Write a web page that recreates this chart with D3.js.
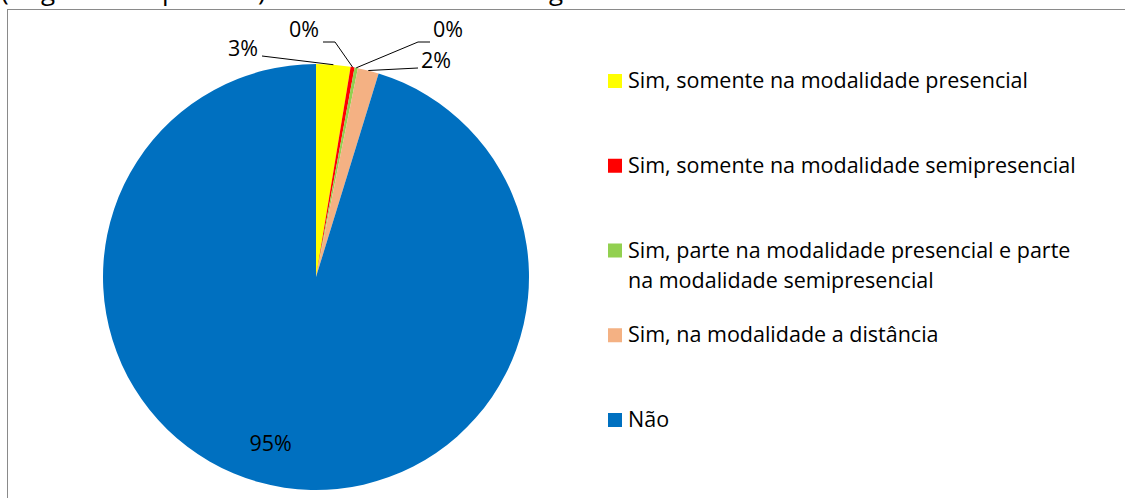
<!DOCTYPE html>
<html>
<head>
<meta charset="utf-8">
<script src="https://cdn.jsdelivr.net/npm/d3@7"></script>
<style>
  body { margin: 0; background: #fff; }
  svg { display: block; }
  text { font-family: "Open Sans", sans-serif; fill: #000; }
</style>
</head>
<body>
<svg id="chart" width="1125" height="498"></svg>
<script>
// categories and shares (percent)
const categories = [
  "Sim, somente na modalidade presencial",
  "Sim, somente na modalidade semipresencial",
  "Sim, parte na modalidade presencial e parte na modalidade semipresencial",
  "Sim, na modalidade a distância",
  "Não"
]
const shares = [2.6, 0.3, 0.25, 1.6, 95.25]
const colors = ["#FFFF00", "#FF0000", "#92D050", "#F4B183", "#0070C0"]

// legend text split into lines as in the reference
const legendLines = [
  ["Sim, somente na modalidade presencial"],
  ["Sim, somente na modalidade semipresencial"],
  ["Sim, parte na modalidade presencial e parte", "na modalidade semipresencial"],
  ["Sim, na modalidade a distância"],
  ["Não"]
]

// where the outside labels sit, relative to the pie centre (null = inside)
const labelOffsets = [[-73, -228], [-12, -247], [132, -247], [120, -216], null]

const CX = 316, CY = 277, R = 213
const FS = "21.5px"

function main() {
  const svg = d3.select("#chart")

  // cropped title line above the frame (only descenders show)
  const title = svg.append("text").attr("y", 0).style("font-size", "26px")
  const frag = [["(", 1], ["g", 41], ["p", 162], [")", 258], ["g", 549]]
  frag.forEach(f => title.append("tspan").attr("x", f[1]).text(f[0]))

  // chart frame, runs off the right and bottom edges
  svg.append("rect")
    .attr("x", 7.5).attr("y", 9.5)
    .attr("width", 1300).attr("height", 600)
    .attr("fill", "#fff")
    .attr("stroke", "#8a8a8a")
    .attr("stroke-width", 1)

  const data = categories.map((c, i) => ({ name: c, value: shares[i], color: colors[i], off: labelOffsets[i] }))
  const total = d3.sum(shares)
  const pct = d3.format(".0%")

  const pie = d3.pie().sort(null).value(d => d.value)
  const arcs = pie(data)
  const arc = d3.arc().innerRadius(0).outerRadius(R)
  const edgeArc = d3.arc().innerRadius(R).outerRadius(R)
  const inArc = d3.arc().innerRadius(R * 0.8).outerRadius(R * 0.8)

  const g = svg.append("g").attr("transform", `translate(${CX},${CY})`)

  g.selectAll("path.slice")
    .data(arcs)
    .join("path")
    .attr("class", "slice")
    .attr("d", arc)
    .attr("fill", d => d.data.color)

  // labels
  arcs.forEach(a => {
    const txt = pct(a.data.value / total)
    if (a.data.off) {
      const [lx, ly] = a.data.off
      const edge = edgeArc.centroid(a)
      const right = lx < edge[0]
      // leader line: text side -> short elbow -> slice edge
      const sx = right ? lx + 19 : lx - 18
      const sy = ly + 7
      const ex = right ? Math.min(sx + 12, edge[0]) : Math.max(sx - 12, edge[0])
      const pts = (Math.abs(ly - edge[1]) > 20 && Math.abs(sx - edge[0]) < 120)
        ? [[sx, sy + 5], [ex, sy + 5], edge]
        : [[sx, sy], edge]
      g.append("path")
        .attr("d", d3.line()(pts))
        .attr("fill", "none")
        .attr("stroke", "#000")
        .attr("stroke-width", 1)
      g.append("text")
        .attr("x", lx).attr("y", ly + 7)
        .attr("text-anchor", "middle")
        .style("font-size", FS)
        .text(txt)
    } else {
      const c = inArc.centroid(a)
      g.append("text")
        .attr("x", c[0] - 20).attr("y", c[1] + 5)
        .attr("text-anchor", "middle")
        .style("font-size", FS)
        .text(txt)
    }
  })

  // legend
  const leg = svg.append("g").attr("transform", "translate(608,0)")
  const rowY = d3.scaleLinear().domain([0, 4]).range([81, 420])
  legendLines.forEach((lines, i) => {
    const y = rowY(i)
    leg.append("rect")
      .attr("x", 0).attr("y", y - 7)
      .attr("width", 14).attr("height", 14)
      .attr("fill", colors[i])
    lines.forEach((t, j) => {
      leg.append("text")
        .attr("x", 20).attr("y", y + 7 + j * 30)
        .style("font-size", FS)
        .text(t)
    })
  })
}

main()
</script>
</body>
</html>
